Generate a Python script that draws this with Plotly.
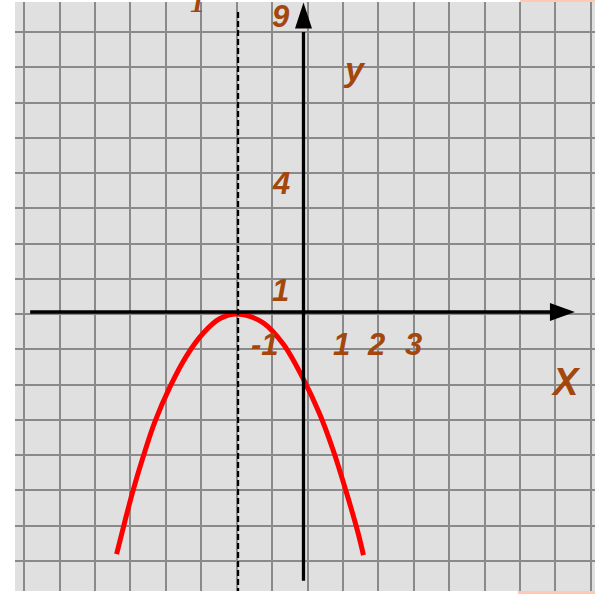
import plotly.graph_objects as go

# Curve points (grid-cell units, origin at the axes crossing)
curve_x = [-5.39, -5.15, -4.92, -4.64, -4.31, -3.88, -3.41, -2.94, -2.47, -1.98,
           -1.25, -0.68, -0.12, 0.35, 0.73, 1.11, 1.43, 1.58]
curve_y = [-6.81, -5.86, -4.99, -4.05, -3.06, -2.06, -1.18, -0.54, -0.13, 0.0,
           -0.25, -0.86, -1.84, -2.85, -3.88, -5.10, -6.22, -6.84]

# Axis labels
y_tick_labels = ["9", "4", "1"]
y_tick_label_pos = [8.43, 3.70, 0.68]
x_tick_labels = ["-1", "1", "2", "3"]
x_tick_label_x = [-1.20, 0.97, 1.93, 2.98]
x_tick_label_y = -0.87
vertex_x = -1.96

BROWN = "#a3470d"
FONT = "Liberation Sans, Arial, sans-serif"

fig = go.Figure()
fig.add_trace(go.Scatter(x=curve_x, y=curve_y, mode="lines",
                         line=dict(color="#ff0000", width=5, shape="spline", smoothing=1.0),
                         hoverinfo="skip"))

shapes = []
# dashed symmetry line
shapes.append(dict(type="line", x0=vertex_x, x1=vertex_x, y0=8.57, y1=-8.0,
                   line=dict(color="black", width=2.2, dash="6px,3px")))
# x axis line
shapes.append(dict(type="line", x0=-7.83, x1=6.95, y0=0.057, y1=0.057,
                   line=dict(color="black", width=3.3)))
# x arrowhead
shapes.append(dict(type="path", xsizemode="pixel", ysizemode="pixel",
                   xanchor=7.55, yanchor=0.057,
                   path="M 0 0 L -25 9 L -25 -9 Z",
                   fillcolor="black", line=dict(color="black", width=0)))
# y axis line
shapes.append(dict(type="line", x0=-0.113, x1=-0.113, y0=-7.57, y1=8.0,
                   line=dict(color="black", width=3.3)))
# y arrowhead
shapes.append(dict(type="path", xsizemode="pixel", ysizemode="pixel",
                   xanchor=-0.113, yanchor=8.84,
                   path="M 0 0 L -8.5 -26 L 8.5 -26 Z",
                   fillcolor="black", line=dict(color="black", width=0)))
# small orange strips at top-right and bottom-right edges
shapes.append(dict(type="rect", xref="paper", yref="paper", x0=0.871, x1=1.0,
                   y0=1.0, y1=1.0 + 2 / 589, fillcolor="#ffc9b3", line=dict(width=0)))
shapes.append(dict(type="rect", xref="paper", yref="paper", x0=0.867, x1=1.0,
                   y0=-3 / 589, y1=0.0, fillcolor="#ffc9b3", line=dict(width=0)))

annotations = []
for t, yy in zip(y_tick_labels, y_tick_label_pos):
    annotations.append(dict(x=-0.75, y=yy, text=t, showarrow=False,
                            font=dict(family=FONT, size=31, color=BROWN, weight="bold", style="italic")))
for t, xx in zip(x_tick_labels, x_tick_label_x):
    annotations.append(dict(x=xx, y=x_tick_label_y, text=t, showarrow=False,
                            font=dict(family=FONT, size=31, color=BROWN, weight="bold", style="italic")))
annotations.append(dict(x=1.34, y=6.95, text="y", showarrow=False,
                        font=dict(family=FONT, size=34, color=BROWN, weight="bold", style="italic")))
annotations.append(dict(x=7.29, y=-1.93, text="X", showarrow=False,
                        font=dict(family=FONT, size=38, color=BROWN, weight="bold", style="italic")))
# cut-off glyph at the top edge
annotations.append(dict(xref="paper", yref="paper", x=0.298, y=0.970, yanchor="bottom",
                        text="1", showarrow=False,
                        font=dict(family="Liberation Serif, serif", size=30, color=BROWN,
                                  weight="bold", style="italic")))

axis_common = dict(showgrid=True, gridcolor="#8a8a8a", gridwidth=2, tick0=0, dtick=1,
                   showticklabels=False, ticks="", zeroline=False, showline=False,
                   fixedrange=True)

fig.update_layout(
    width=595, height=594,
    margin=dict(l=15, r=0, t=2, b=3),
    paper_bgcolor="white", plot_bgcolor="#e0e0e0",
    showlegend=False, hovermode=False,
    xaxis=dict(range=[-8.258, 8.117], **axis_common),
    yaxis=dict(range=[-7.858, 8.851], **axis_common),
    shapes=shapes, annotations=annotations,
)

fig.write_html("out.html", config={"displayModeBar": False},
               post_script="document.body.style.margin='0px';document.body.style.overflow='hidden';")
